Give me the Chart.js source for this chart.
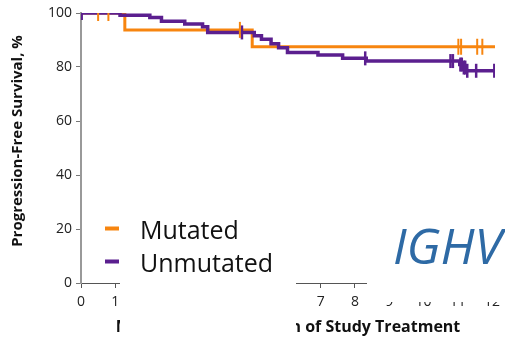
<!DOCTYPE html>
<html>
<head>
<meta charset="utf-8">
<script src="https://cdn.jsdelivr.net/npm/chart.js@4.4.1/dist/chart.umd.min.js"></script>
<style>
  html, body { margin: 0; padding: 0; background: #ffffff; }
  canvas { display: block; }
</style>
</head>
<body>
<canvas id="chartPfs" width="505" height="339"></canvas>
<script>
// Curvas de Kaplan-Meier (meses, % libre de progresion)
const nombreMutated = "Mutated";
const nombreUnmutated = "Unmutated";

const mesesMutated = [0, 1.28, 5.0, 12.2];
const pfsMutated = [100, 93.75, 87.5, 87.5];
const censuraMutated = [0.5, 0.8, 4.64, 11.02, 11.1, 11.57, 11.72];

const mesesUnmutated = [0, 1.14, 2.01, 2.35, 3.03, 3.55, 3.7, 5.06, 5.27, 5.55, 5.77, 6.03, 6.92, 7.64, 8.33, 11.06, 11.15, 11.25, 12.2];
const pfsUnmutated = [100, 99.2, 98.3, 96.9, 95.9, 94.9, 92.8, 91.6, 90.3, 88.6, 87.1, 85.4, 84.4, 83.2, 82.2, 80.9, 79.8, 78.6, 78.6];
const censuraUnmutated = [0.02, 4.7, 8.3, 10.79, 10.86, 11.08, 11.12, 11.18, 11.22, 11.28, 11.54, 12.07];

const ticksX = [0, 1, 2, 3, 4, 5, 6, 7, 8, 9, 10, 11, 12];
const ticksY = [0, 20, 40, 60, 80, 100];

const tituloX = "Months From Initiation of Study Treatment";
const tituloY = "Progression-Free Survival, %";
const rotulo = "IGHV";

const colorMutated = "#f7850f";
const colorUnmutated = "#5b1f8f";

function valorEnMes(meses, valores, t) {
  let v = valores[0];
  for (let i = 0; i < meses.length; i++) {
    if (meses[i] <= t) v = valores[i];
  }
  return v;
}

function puntos(meses, valores) {
  return meses.map((m, i) => ({ x: m, y: valores[i] }));
}

function puntosCensura(censuras, meses, valores) {
  return censuras.map((m) => ({ x: m, y: valorEnMes(meses, valores, m) }));
}

const pluginExtras = {
  id: "extras",
  afterDraw(chart) {
    const ctx = chart.ctx;
    const escalaX = chart.scales.x;
    ctx.save();

    // etiquetas del eje X (se dibujan aparte para que no recorten el area)
    ctx.font = "14px 'Open Sans'";
    ctx.fillStyle = "#222222";
    ctx.textAlign = "center";
    ctx.textBaseline = "middle";
    ticksX.forEach((v) => {
      ctx.fillText(String(v), escalaX.getPixelForValue(v), 302);
    });

    // titulo del eje Y
    ctx.save();
    ctx.translate(18, 141);
    ctx.rotate(-Math.PI / 2);
    ctx.font = "bold 15px 'Open Sans'";
    ctx.fillStyle = "#111111";
    ctx.fillText(tituloY, 0, 0);
    ctx.restore();

    // recuadros blancos que tapan parte del eje
    ctx.fillStyle = "#ffffff";
    ctx.fillRect(120, 279, 176, 60);
    ctx.fillRect(367, 279, 138, 23);

    // leyenda
    const filas = [
      { texto: nombreMutated, color: colorMutated, base: 239 },
      { texto: nombreUnmutated, color: colorUnmutated, base: 272 }
    ];
    ctx.font = "25px 'Open Sans'";
    ctx.textAlign = "left";
    ctx.textBaseline = "alphabetic";
    filas.forEach((fila) => {
      ctx.fillStyle = fila.color;
      ctx.fillRect(105, fila.base - 12.5, 14, 4);
      ctx.fillStyle = "#111111";
      ctx.fillText(fila.texto, 140, fila.base);
    });

    ctx.font = "italic 50px 'Open Sans'";
    ctx.fillStyle = "#2e6aa5";
    ctx.fillText(rotulo, 393, 264);

    ctx.restore();
  }
};

new Chart(document.getElementById("chartPfs"), {
  type: "line",
  data: {
    datasets: [
      {
        label: nombreMutated + " censura",
        type: "scatter",
        data: puntosCensura(censuraMutated, mesesMutated, pfsMutated),
        showLine: false,
        pointStyle: "line",
        rotation: 90,
        pointRadius: 8,
        pointBorderWidth: 2,
        borderColor: colorMutated,
        backgroundColor: colorMutated,
        order: 0
      },
      {
        label: nombreUnmutated + " censura",
        type: "scatter",
        data: puntosCensura(censuraUnmutated, mesesUnmutated, pfsUnmutated),
        showLine: false,
        pointStyle: "line",
        rotation: 90,
        pointRadius: 7,
        pointBorderWidth: 2.5,
        borderColor: colorUnmutated,
        backgroundColor: colorUnmutated,
        order: 1
      },
      {
        label: nombreUnmutated,
        data: puntos(mesesUnmutated, pfsUnmutated),
        stepped: true,
        borderColor: colorUnmutated,
        borderWidth: 3.5,
        pointRadius: 0,
        fill: false,
        order: 2
      },
      {
        label: nombreMutated,
        data: puntos(mesesMutated, pfsMutated),
        stepped: true,
        borderColor: colorMutated,
        borderWidth: 3,
        pointRadius: 0,
        fill: false,
        order: 3
      }
    ]
  },
  options: {
    responsive: false,
    animation: false,
    layout: {
      padding: { top: 13, right: 5, bottom: 0, left: 0 }
    },
    plugins: {
      legend: { display: false },
      tooltip: { enabled: false }
    },
    scales: {
      x: {
        type: "linear",
        min: 0,
        max: 12.09,
        afterFit: (scale) => {
          scale.height = 56;
        },
        afterBuildTicks: (scale) => { scale.ticks = ticksX.map((v) => ({ value: v })); },
        ticks: { display: false },
        grid: {
          drawOnChartArea: false,
          drawTicks: true,
          tickLength: 5,
          tickWidth: 1,
          color: "#555555"
        },
        border: { display: true, color: "#555555", width: 1 },
        title: {
          display: true,
          text: tituloX,
          color: "#111111",
          font: { family: "Open Sans", size: 16, weight: "bold" },
          padding: { top: 0, bottom: 2 }
        }
      },
      y: {
        min: 0,
        max: 100,
        afterFit: (scale) => {
          scale.width = 81;
          scale.paddingTop = 0;
          scale.paddingBottom = 0;
        },
        afterBuildTicks: (scale) => { scale.ticks = ticksY.map((v) => ({ value: v })); },
        ticks: {
          color: "#222222",
          padding: 4,
          font: { family: "Open Sans", size: 14 }
        },
        grid: {
          drawOnChartArea: false,
          tickLength: 5,
          tickWidth: 1,
          color: "#777777"
        },
        border: { display: true, color: "#999999", width: 2 }
      }
    }
  },
  plugins: [pluginExtras]
});
</script>
</body>
</html>
